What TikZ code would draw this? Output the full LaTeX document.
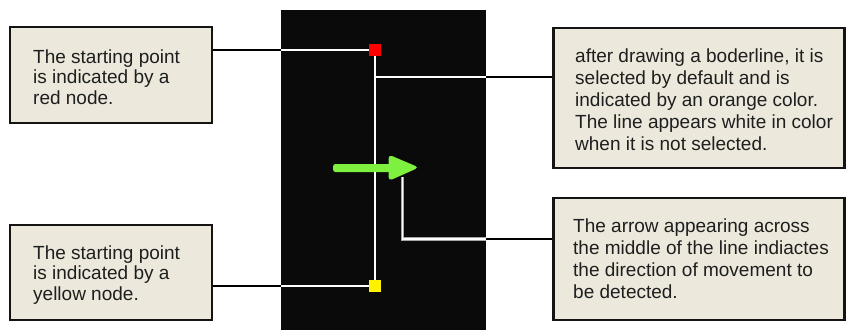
\documentclass[tikz,border=0pt]{standalone}
\usepackage{fontspec}
\setmainfont{Liberation Sans}
\usetikzlibrary{shadows}
\begin{document}
\begin{tikzpicture}[x=1pt,y=-1pt,
  note/.style={draw=boxborder,line width=2.6pt,fill=boxfill,inner sep=0pt,
    drop shadow={shadow xshift=1pt,shadow yshift=-1pt,opacity=0.35}},
  notetext/.style={anchor=base west,inner sep=0pt,align=left,text=textcol},
  wlink/.style={draw=white,line width=2pt},
  blink/.style={draw=black,line width=2pt},
  marker/.style={minimum width=12pt,minimum height=12pt,inner sep=0pt}]
\definecolor{boxfill}{RGB}{236,233,220}
\definecolor{boxborder}{RGB}{20,20,20}
\definecolor{textcol}{RGB}{30,30,30}
\definecolor{panelcol}{RGB}{10,10,10}
\definecolor{arrowgreen}{RGB}{126,240,64}
\useasboundingbox (0,0) rectangle (846,330);
% dark panel
\node[fill=panelcol,inner sep=0pt,minimum width=205pt,minimum height=320pt,anchor=north west] (panel) at (281,10) {};
% notes
\node[note,minimum width=202pt,minimum height=96pt] (b1) at (111,75) {};
\node[note,minimum width=202pt,minimum height=95pt] (b2) at (111,272.5) {};
\node[note,minimum width=291pt,minimum height=140pt] (b3) at (699,98) {};
\node[note,minimum width=291pt,minimum height=122pt] (b4) at (699,259) {};
% text nodes: anchor base = baseline of the last line
\node[notetext,font=\fontsize{19}{20.5}\selectfont] (t1) at (33,104)
  {The starting point\\is indicated by a\\red node.};
\node[notetext,font=\fontsize{19}{20.5}\selectfont] (t2) at (33,300)
  {The starting point\\is indicated by a\\yellow node.};
\node[notetext,font=\fontsize{19}{22}\selectfont] (t3) at (575,150)
  {after drawing a boderline, it is\\selected by default and is\\indicated by an orange color.\\The line appears white in color\\when it is not selected.};
\node[notetext,font=\fontsize{19}{22}\selectfont] (t4) at (573,298)
  {The arrow appearing across\\the middle of the line indiactes\\the direction of movement to\\be detected.};
% markers and line
\node[marker,fill=red] (red) at (375,50) {};
\node[marker,fill=yellow] (yel) at (375,286) {};
\draw[white,line width=1.5pt] (red.south) -- (yel.north);
% green arrow
\fill[arrowgreen,rounded corners=2.5pt] (333,164) -- (392,164) -- (392,172) -- (333,172) -- cycle;
\fill[arrowgreen,rounded corners=4pt] (388.5,154.5) -- (419,167.5) -- (388.5,181) -- cycle;
\coordinate (ah) at (402.5,177);
% connectors
\coordinate (c3) at (375.7,77);
\coordinate (c4) at (402.5,239);
\draw[blink] (b1.east |- red.west) -- (panel.west |- red.west);
\draw[wlink] (panel.west |- red.west) -- (red.west);
\draw[blink] (b2.east |- yel.west) -- (panel.west |- yel.west);
\draw[wlink] (panel.west |- yel.west) -- (yel.west);
\draw[wlink] (c3) -- (panel.east |- c3);
\draw[blink] (panel.east |- c3) -- (b3.west |- c3);
\draw[gray!70,line width=3.5pt] (ah) -- (c4) -- (panel.east |- c4);
\draw[white,line width=1.6pt] (ah) -- (c4) -- (panel.east |- c4);
\draw[blink] (panel.east |- c4) -- (b4.west |- c4);
\end{tikzpicture}
\end{document}
